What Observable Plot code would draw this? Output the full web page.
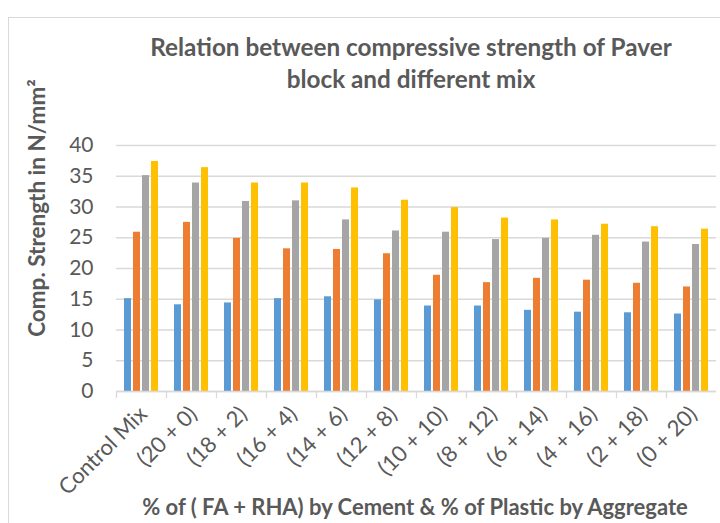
<!DOCTYPE html>
<html>
<head>
<meta charset="utf-8">
<script src="https://cdn.jsdelivr.net/npm/d3@7"></script>
<script src="https://cdn.jsdelivr.net/npm/@observablehq/plot@0.6"></script>
<style>
  html, body { margin: 0; padding: 0; background: #fff; }
  #wrap { position: relative; width: 720px; height: 523px; overflow: hidden; font-family: Lato, "Open Sans", sans-serif; color: #595959; }
  #border { position: absolute; left: 8px; top: 17px; width: 730px; height: 530px; border: 1px solid #d9d9d9; box-sizing: border-box; }
  #title { position: absolute; left: 61px; width: 700px; top: 31px; text-align: center; font-weight: 700; font-size: 24.3px; line-height: 32px; }
  #xtitle { position: absolute; left: 65px; width: 700px; top: 496px; text-align: center; font-weight: 700; font-size: 22px; line-height: 22px; white-space: nowrap; }
  #ytitle { position: absolute; left: 37px; top: 208px; transform: translate(-50%, -50%) rotate(-90deg); font-weight: 700; font-size: 22.5px; line-height: 22px; white-space: nowrap; }
  #chart { position: absolute; left: 0; top: 0; }
</style>
</head>
<body>
<div id="wrap">
  <div id="border"></div>
  <div id="chart"></div>
  <div id="title">Relation between compressive strength of Paver<br>block and different mix</div>
  <div id="ytitle">Comp. Strength in N/mm²</div>
  <div id="xtitle">% of ( FA + RHA) by Cement &amp; % of Plastic by Aggregate</div>
</div>
<script>
const categories = ["Control Mix", "(20 + 0)", "(18 + 2)", "(16 + 4)", "(14 + 6)", "(12 + 8)", "(10 + 10)", "(8 + 12)", "(6 + 14)", "(4 + 16)", "(2 + 18)", "(0 + 20)"];
const seriesNames = ["Series1", "Series2", "Series3", "Series4"];
const series1 = [15.1, 14.1, 14.4, 15.1, 15.4, 14.9, 13.9, 13.9, 13.2, 12.9, 12.8, 12.6];
const series2 = [25.9, 27.5, 24.9, 23.2, 23.1, 22.4, 18.9, 17.7, 18.4, 18.1, 17.6, 17.0];
const series3 = [35.1, 33.9, 30.9, 31.0, 27.9, 26.1, 25.9, 24.7, 24.9, 25.4, 24.3, 23.9];
const series4 = [37.4, 36.4, 33.9, 33.9, 33.1, 31.1, 29.9, 28.2, 27.9, 27.2, 26.8, 26.4];
const yTicks = [0, 5, 10, 15, 20, 25, 30, 35, 40];
const colors = ["#5B9BD5", "#ED7D31", "#A5A5A5", "#FFC000"];

const allSeries = [series1, series2, series3, series4];
const data = [];
categories.forEach((c, i) => {
  allSeries.forEach((s, j) => data.push({cat: c, series: seriesNames[j], value: s[i]}));
});

const chart = Plot.plot({
  width: 720,
  height: 523,
  marginTop: 145,
  marginBottom: 132,
  marginLeft: 111,
  marginRight: 0,
  style: {fontFamily: "Lato, 'Open Sans', sans-serif", color: "#595959", background: "transparent", overflow: "visible"},
  fx: {domain: categories, padding: 0, label: null},
  x: {domain: seriesNames, paddingInner: 0.25, paddingOuter: 0.83, axis: null},
  y: {domain: [0, 40], label: null},
  color: {domain: seriesNames, range: colors},
  marks: [
    Plot.gridY(yTicks, {stroke: "#d9d9d9", strokeOpacity: 1, strokeWidth: 1.3}),
    Plot.axisY(yTicks, {tickSize: 0, tickPadding: 23, fontSize: 21, label: null, fill: "#595959"}),
    Plot.barY(data, {fx: "cat", x: "series", y: "value", fill: "series"}),
    Plot.ruleY([0], {stroke: "#d9d9d9", strokeWidth: 1.3}),
    Plot.frame({anchor: "left", insetTop: 246, insetBottom: -6, stroke: "#d9d9d9", strokeWidth: 1.3}),
    Plot.axisFx({anchor: "bottom", tickRotate: -45, tickSize: 0, tickPadding: 19, dx: 2, fontSize: 22, label: null, fill: "#595959"})
  ]
});
document.getElementById("chart").appendChild(chart);
</script>
</body>
</html>
